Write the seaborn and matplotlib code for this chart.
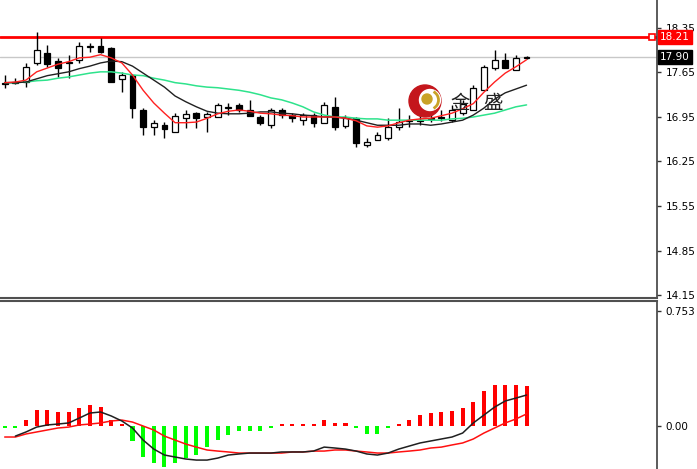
import matplotlib
matplotlib.use('Agg')
import matplotlib.pyplot as plt
import numpy as np
import pandas as pd
import seaborn as sns
from matplotlib.patches import Ellipse, Arc

sns.set_theme(style='white')
plt.rcParams['font.family'] = ['DejaVu Sans', 'Noto Sans CJK SC']

# candles (price)
opens = [17.49, 17.49, 17.50, 17.80, 17.96, 17.83, 17.80, 17.85, 18.05, 18.07,
         18.04, 17.55, 17.61, 17.06, 16.79, 16.82, 16.71, 16.93, 17.01, 16.95,
         16.95, 17.09, 17.14, 17.06, 16.95, 16.82, 17.06, 16.98, 16.90, 16.98,
         16.86, 17.11, 16.81, 16.93, 16.51, 16.59, 16.62, 16.79, 16.89, 16.89,
         16.92, 16.93, 16.90, 17.01, 17.06, 17.38, 17.72, 17.85, 17.69, 17.88]
highs = [17.61, 17.56, 17.80, 18.29, 18.08, 17.88, 17.92, 18.13, 18.11, 18.19,
         18.05, 17.66, 17.61, 17.09, 16.90, 16.87, 17.01, 17.06, 17.03, 17.03,
         17.17, 17.17, 17.17, 17.22, 16.98, 17.09, 17.09, 17.01, 17.01, 17.01,
         17.19, 17.27, 16.98, 16.95, 16.62, 16.71, 16.93, 17.09, 16.98, 17.01,
         17.03, 17.06, 17.14, 17.22, 17.45, 17.77, 18.00, 17.96, 17.92, 17.91]
lows = [17.41, 17.47, 17.42, 17.77, 17.74, 17.58, 17.56, 17.80, 17.97, 17.96,
        17.50, 17.34, 16.93, 16.67, 16.67, 16.62, 16.71, 16.78, 16.78, 16.71,
        16.95, 16.98, 17.03, 16.97, 16.82, 16.78, 16.93, 16.87, 16.82, 16.79,
        16.86, 16.75, 16.78, 16.48, 16.48, 16.59, 16.59, 16.75, 16.79, 16.82,
        16.87, 16.89, 16.87, 16.98, 17.06, 17.38, 17.69, 17.72, 17.69, 17.86]
closes = [17.47, 17.50, 17.74, 18.00, 17.78, 17.72, 17.81, 18.07, 18.07, 17.97,
          17.50, 17.61, 17.09, 16.79, 16.86, 16.76, 16.97, 17.00, 16.93, 17.00,
          17.14, 17.10, 17.06, 16.97, 16.86, 17.06, 16.98, 16.93, 16.98, 16.86,
          17.14, 16.79, 16.93, 16.54, 16.56, 16.67, 16.79, 16.87, 16.90, 16.90,
          16.93, 16.95, 17.06, 17.15, 17.41, 17.74, 17.85, 17.72, 17.88, 17.90]

# moving averages
ma_red = [17.49, 17.50, 17.53, 17.66, 17.72, 17.78, 17.82, 17.88, 17.89, 17.93,
          17.88, 17.80, 17.61, 17.37, 17.17, 17.01, 16.86, 16.86, 16.87, 16.93,
          17.00, 17.04, 17.06, 17.04, 17.01, 17.00, 16.98, 16.97, 16.95, 16.95,
          16.95, 16.95, 16.93, 16.89, 16.81, 16.79, 16.81, 16.86, 16.90, 16.92,
          16.93, 16.97, 17.01, 17.08, 17.16, 17.34, 17.50, 17.64, 17.74, 17.85]
ma_black = [17.49, 17.49, 17.50, 17.55, 17.60, 17.63, 17.66, 17.71, 17.75, 17.80,
            17.83, 17.82, 17.75, 17.64, 17.53, 17.42, 17.28, 17.19, 17.11, 17.04,
            17.01, 17.00, 17.00, 17.01, 17.03, 17.03, 17.01, 17.00, 16.98, 16.97,
            16.95, 16.95, 16.93, 16.90, 16.86, 16.82, 16.82, 16.82, 16.84, 16.84,
            16.82, 16.84, 16.87, 16.90, 16.98, 17.09, 17.23, 17.33, 17.39, 17.45]
ma_green = [17.49, 17.49, 17.50, 17.52, 17.53, 17.56, 17.58, 17.61, 17.64, 17.66,
            17.66, 17.64, 17.61, 17.60, 17.56, 17.53, 17.49, 17.47, 17.44, 17.42,
            17.41, 17.39, 17.37, 17.34, 17.30, 17.25, 17.22, 17.17, 17.11, 17.03,
            16.98, 16.95, 16.95, 16.93, 16.92, 16.92, 16.90, 16.90, 16.90, 16.90,
            16.90, 16.90, 16.92, 16.93, 16.95, 16.98, 17.01, 17.06, 17.11, 17.14]

# MACD panel
hist = [-0.01, -0.01, 0.04, 0.105, 0.105, 0.09, 0.09, 0.12, 0.14, 0.125,
        0.04, 0.012, -0.10, -0.20, -0.24, -0.27, -0.24, -0.21, -0.19, -0.14,
        -0.09, -0.06, -0.03, -0.03, -0.035, -0.012, 0.012, 0.012, 0.015, 0.012,
        0.04, 0.02, 0.02, -0.012, -0.05, -0.05, -0.012, 0.012, 0.04, 0.075,
        0.085, 0.095, 0.10, 0.12, 0.16, 0.23, 0.27, 0.27, 0.27, 0.26]
macd = [np.nan, -0.066, -0.039, -0.007, 0.007, 0.013, 0.020, 0.052, 0.085, 0.092,
        0.066, 0.033, -0.013, -0.092, -0.151, -0.190, -0.203, -0.216, -0.223, -0.223,
        -0.210, -0.190, -0.183, -0.177, -0.177, -0.177, -0.170, -0.170, -0.170, -0.164,
        -0.138, -0.144, -0.151, -0.164, -0.183, -0.190, -0.177, -0.151, -0.131, -0.111,
        -0.098, -0.085, -0.072, -0.046, 0.020, 0.072, 0.124, 0.164, 0.183, 0.203]
signal = [-0.072, -0.072, -0.052, -0.039, -0.026, -0.013, -0.007, 0.007, 0.013, 0.020,
          0.033, 0.039, 0.026, 0.000, -0.026, -0.066, -0.092, -0.118, -0.138, -0.157,
          -0.164, -0.170, -0.177, -0.177, -0.177, -0.177, -0.177, -0.170, -0.170, -0.164,
          -0.164, -0.157, -0.157, -0.164, -0.170, -0.177, -0.177, -0.170, -0.164, -0.157,
          -0.144, -0.138, -0.124, -0.111, -0.085, -0.046, -0.013, 0.020, 0.046, 0.079]

price_ticks = [18.35, 17.65, 16.95, 16.25, 15.55, 14.85, 14.15]
macd_ticks = [0.753, 0.0]
macd_tick_labels = ['0.753', '0.00']
resistance = 18.21
last_price = 17.90

W, H = 697, 469
fig = plt.figure(figsize=(W / 100, H / 100), dpi=100)
ax = fig.add_axes([0, 1 - 298 / H, 657 / W, 298 / H])
ax2 = fig.add_axes([0, 0, 657 / W, (H - 301) / H])

df = pd.DataFrame({'open': opens, 'high': highs, 'low': lows, 'close': closes,
                   'ma_red': ma_red, 'ma_black': ma_black, 'ma_green': ma_green,
                   'hist': hist, 'macd': macd, 'signal': signal})
df['i'] = np.arange(len(df))
xmin, xmax = -0.44, 61.25

# --- price panel
ax.axhline(last_price, color='#c8c8c8', lw=1, zorder=1)
ax.axhline(resistance, color='#ff0000', lw=2, zorder=2)
ax.plot([xmax - 0.45], [resistance], marker='s', ms=4, mfc='white', mec='red',
        mew=1.2, clip_on=False, zorder=6)

ax.vlines(df['i'], df['low'], df['high'], color='black', lw=1, zorder=3)
bull = df['close'] >= df['open']
body_lo = np.minimum(df['open'], df['close'])
body_h = (df['close'] - df['open']).abs()
ax.bar(df['i'], body_h, bottom=body_lo, width=0.55,
       color=np.where(bull, 'white', 'black'), edgecolor='black', lw=0.9, zorder=4)

sns.lineplot(data=df, x='i', y='ma_green', color='#2ee38c', lw=1.1, ax=ax, zorder=5)
sns.lineplot(data=df, x='i', y='ma_black', color='#202020', lw=1, ax=ax, zorder=5)
sns.lineplot(data=df, x='i', y='ma_red', color='#ff2020', lw=1, ax=ax, zorder=5)

ax.set_xlim(xmin, xmax)
ax.set_ylim(14.103, 18.79)

# --- MACD panel
ax2.bar(df['i'], df['hist'], width=0.38,
        color=np.where(df['hist'] > 0, '#ff0000', '#00ff00'), lw=0, zorder=2)
sns.lineplot(data=df, x='i', y='signal', color='#ff1010', lw=1.1, ax=ax2, zorder=3)
sns.lineplot(data=df, x='i', y='macd', color='#202020', lw=1.1, ax=ax2, zorder=4)
ax2.set_xlim(xmin, xmax)
ax2.set_ylim(-0.2815, 0.819)

for a in (ax, ax2):
    a.set_xlabel('')
    a.set_ylabel('')
    a.set_xticks([])
    a.yaxis.tick_right()
    a.tick_params(axis='y', direction='out', length=3, width=1, colors='#333333',
                  labelcolor='black', labelsize=7.5, pad=3, right=True, left=False)
    a.spines['left'].set_visible(False)
    a.spines['right'].set_color('#404040')
    a.spines['right'].set_linewidth(1.2)
    a.set_facecolor('white')

ax.spines['top'].set_visible(False)
ax.spines['bottom'].set_color('#505050')
ax.spines['bottom'].set_linewidth(1.5)
ax2.spines['bottom'].set_visible(False)
ax2.spines['top'].set_color('#505050')
ax2.spines['top'].set_linewidth(1.5)

ax.set_yticks(price_ticks)
ax.set_yticklabels([f'{t:.2f}' for t in price_ticks])
ax2.set_yticks(macd_ticks)
ax2.set_yticklabels(macd_tick_labels)

# price labels on axis
def fy(v, a):
    lo, hi = a.get_ylim()
    pos = a.get_position()
    return pos.y0 + (v - lo) / (hi - lo) * pos.height

fig.text(660 / W, fy(resistance, ax), f'{resistance:.2f}', color='white', fontsize=7.5,
         va='center', ha='left',
         bbox=dict(boxstyle='square,pad=0.2', fc='#ff0000', ec='#ff0000'))
fig.text(660 / W, fy(last_price, ax), f'{last_price:.2f}', color='white', fontsize=7.5,
         va='center', ha='left',
         bbox=dict(boxstyle='square,pad=0.2', fc='black', ec='black'))

# watermark logo
def px(x, y):
    return x / W, 1 - y / H

logo = [
    Ellipse(px(425, 101), 32 / W, 32 / H, color='#c4161c'),
    Ellipse(px(430, 100), 21 / W, 21 / H, color='white'),
    Arc(px(429, 100), 19 / W, 19 / H, theta1=-70, theta2=70, color='#c9a227', lw=2),
    Ellipse(px(427, 99), 10 / W, 10 / H, color='#c9a227'),
]
for p in logo:
    p.set_transform(fig.transFigure)
    p.set_zorder(7)
    fig.patches.append(p)
fig.text(460 / W, 1 - 103 / H, '金', fontsize=14, family=['Noto Sans CJK SC'],
         color='#222222', ha='center', va='center')
fig.text(493 / W, 1 - 103 / H, '盛', fontsize=14, family=['Noto Sans CJK SC'],
         color='#222222', ha='center', va='center')

fig.savefig('out.png', dpi=100)
